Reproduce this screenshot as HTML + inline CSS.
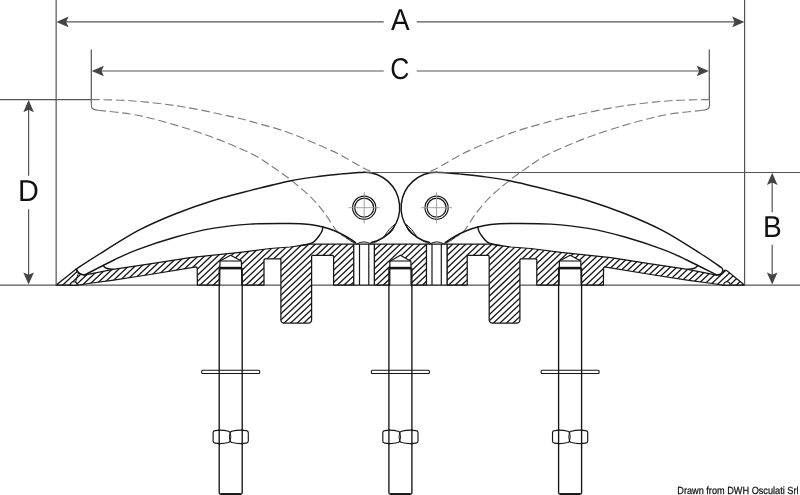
<!DOCTYPE html>
<html><head><meta charset="utf-8"><title>Cleat drawing</title>
<style>
html,body{margin:0;padding:0;background:#fff;}
body{width:800px;height:495px;overflow:hidden;font-family:"Liberation Sans",sans-serif;}
svg{display:block;will-change:transform;}
</style></head>
<body>
<svg width="800" height="495" viewBox="0 0 800 495">
<rect width="800" height="495" fill="#fff"/>
<path d="M0,285.2 H280.6 M311.6,285.2 H489.20 M520.20,285.2 H800" stroke="#555" stroke-width="1.2" fill="none"/>
<clipPath id="baseclip"><path d="M56.20,285.00 L76.30,269.00 L77.60,271.60 L80.20,273.90 L84.00,275.00 L88.00,274.30 L113.00,269.40 L150.00,263.80 L190.00,257.60 L240.00,252.30 L270.00,248.50 L290.00,247.00 L300.00,245.60 L305.00,244.80 L311.00,244.10 L353.80,244.10 L353.80,285.00 L333.60,285.00 L333.60,256.30 L332.60,255.30 L312.60,255.30 L311.60,256.30 L311.60,320.00 L311.20,321.60 L310.20,322.70 L308.60,323.10 L283.90,323.10 L282.30,322.70 L281.30,321.60 L280.90,320.00 L280.90,259.80 L279.90,258.80 L265.00,258.80 L264.00,259.80 L264.00,285.00 L241.80,285.00 L241.40,261.00 L230.60,255.20 L220.00,261.00 L219.60,285.00 L197.40,285.00 L197.20,268.00 L196.20,266.90 L150.00,274.50 L112.00,280.30 L88.40,283.50 L79.00,285.00Z"/><path d="M744.40,285.00 L727.00,270.80 L725.60,270.20 L724.20,270.50 L723.40,271.80 L721.60,273.80 L718.60,275.00 L716.40,275.10 L712.80,274.30 L687.80,269.40 L650.80,263.80 L610.80,257.60 L560.80,252.30 L530.80,248.50 L510.80,247.00 L500.80,245.60 L495.80,244.80 L489.80,244.10 L447.00,244.10 L447.00,285.00 L467.20,285.00 L467.20,256.30 L468.20,255.30 L488.20,255.30 L489.20,256.30 L489.20,320.00 L489.60,321.60 L490.60,322.70 L492.20,323.10 L516.90,323.10 L518.50,322.70 L519.50,321.60 L519.90,320.00 L519.90,259.80 L520.90,258.80 L535.80,258.80 L536.80,259.80 L536.80,285.00 L559.00,285.00 L559.40,261.00 L570.20,255.20 L580.80,261.00 L581.20,285.00 L603.40,285.00 L603.60,268.00 L604.60,266.90 L650.80,274.50 L688.80,280.30 L712.40,283.50 L721.80,285.00Z"/><path d="M374.30,244.10 L426.50,244.10 L426.50,285.00 L411.10,285.00 L410.90,261.20 L400.40,255.20 L389.90,261.20 L389.70,285.00 L374.30,285.00Z"/></clipPath>
<g clip-path="url(#baseclip)"><path d="M-383.70,330 L-288.47,240 M-377.16,330 L-281.93,240 M-370.62,330 L-275.39,240 M-364.08,330 L-268.85,240 M-357.54,330 L-262.31,240 M-351.01,330 L-255.77,240 M-344.47,330 L-249.23,240 M-337.93,330 L-242.69,240 M-331.39,330 L-236.15,240 M-324.85,330 L-229.61,240 M-318.31,330 L-223.07,240 M-311.77,330 L-216.53,240 M-305.23,330 L-209.99,240 M-298.69,330 L-203.45,240 M-292.15,330 L-196.91,240 M-285.61,330 L-190.37,240 M-279.07,330 L-183.83,240 M-272.53,330 L-177.29,240 M-265.99,330 L-170.75,240 M-259.45,330 L-164.21,240 M-252.91,330 L-157.67,240 M-246.37,330 L-151.13,240 M-239.83,330 L-144.59,240 M-233.29,330 L-138.05,240 M-226.75,330 L-131.51,240 M-220.21,330 L-124.97,240 M-213.67,330 L-118.43,240 M-207.13,330 L-111.89,240 M-200.59,330 L-105.35,240 M-194.05,330 L-98.81,240 M-187.51,330 L-92.28,240 M-180.97,330 L-85.74,240 M-174.43,330 L-79.20,240 M-167.89,330 L-72.66,240 M-161.35,330 L-66.12,240 M-154.81,330 L-59.58,240 M-148.28,330 L-53.04,240 M-141.74,330 L-46.50,240 M-135.20,330 L-39.96,240 M-128.66,330 L-33.42,240 M-122.12,330 L-26.88,240 M-115.58,330 L-20.34,240 M-109.04,330 L-13.80,240 M-102.50,330 L-7.26,240 M-95.96,330 L-0.72,240 M-89.42,330 L5.82,240 M-82.88,330 L12.36,240 M-76.34,330 L18.90,240 M-69.80,330 L25.44,240 M-63.26,330 L31.98,240 M-56.72,330 L38.52,240 M-50.18,330 L45.06,240 M-43.64,330 L51.60,240 M-37.10,330 L58.14,240 M-30.56,330 L64.68,240 M-24.02,330 L71.22,240 M-17.48,330 L77.76,240 M-10.94,330 L84.30,240 M-4.40,330 L90.84,240 M2.14,330 L97.38,240 M8.68,330 L103.92,240 M15.22,330 L110.46,240 M21.76,330 L116.99,240 M28.30,330 L123.53,240 M34.84,330 L130.07,240 M41.38,330 L136.61,240 M47.92,330 L143.15,240 M54.46,330 L149.69,240 M60.99,330 L156.23,240 M67.53,330 L162.77,240 M74.07,330 L169.31,240 M80.61,330 L175.85,240 M87.15,330 L182.39,240 M93.69,330 L188.93,240 M100.23,330 L195.47,240 M106.77,330 L202.01,240 M113.31,330 L208.55,240 M119.85,330 L215.09,240 M126.39,330 L221.63,240 M132.93,330 L228.17,240 M139.47,330 L234.71,240 M146.01,330 L241.25,240 M152.55,330 L247.79,240 M159.09,330 L254.33,240 M165.63,330 L260.87,240 M172.17,330 L267.41,240 M178.71,330 L273.95,240 M185.25,330 L280.49,240 M191.79,330 L287.03,240 M198.33,330 L293.57,240 M204.87,330 L300.11,240 M211.41,330 L306.65,240 M217.95,330 L313.19,240 M224.49,330 L319.72,240 M231.03,330 L326.26,240 M237.57,330 L332.80,240 M244.11,330 L339.34,240 M250.65,330 L345.88,240 M257.19,330 L352.42,240 M263.72,330 L358.96,240 M270.26,330 L365.50,240 M276.80,330 L372.04,240 M283.34,330 L378.58,240 M289.88,330 L385.12,240 M296.42,330 L391.66,240 M302.96,330 L398.20,240 M309.50,330 L404.74,240 M316.04,330 L411.28,240 M322.58,330 L417.82,240 M329.12,330 L424.36,240 M335.66,330 L430.90,240 M342.20,330 L437.44,240 M348.74,330 L443.98,240 M355.28,330 L450.52,240 M361.82,330 L457.06,240 M368.36,330 L463.60,240 M374.90,330 L470.14,240 M381.44,330 L476.68,240 M387.98,330 L483.22,240 M394.52,330 L489.76,240 M401.06,330 L496.30,240 M407.60,330 L502.84,240 M414.14,330 L509.38,240 M420.68,330 L515.92,240 M427.22,330 L522.46,240 M433.76,330 L528.99,240 M440.30,330 L535.53,240 M446.84,330 L542.07,240 M453.38,330 L548.61,240 M459.92,330 L555.15,240 M466.46,330 L561.69,240 M472.99,330 L568.23,240 M479.53,330 L574.77,240 M486.07,330 L581.31,240 M492.61,330 L587.85,240 M499.15,330 L594.39,240 M505.69,330 L600.93,240 M512.23,330 L607.47,240 M518.77,330 L614.01,240 M525.31,330 L620.55,240 M531.85,330 L627.09,240 M538.39,330 L633.63,240 M544.93,330 L640.17,240 M551.47,330 L646.71,240 M558.01,330 L653.25,240 M564.55,330 L659.79,240 M571.09,330 L666.33,240 M577.63,330 L672.87,240 M584.17,330 L679.41,240 M590.71,330 L685.95,240 M597.25,330 L692.49,240 M603.79,330 L699.03,240 M610.33,330 L705.57,240 M616.87,330 L712.11,240 M623.41,330 L718.65,240 M629.95,330 L725.19,240 M636.49,330 L731.72,240 M643.03,330 L738.26,240 M649.57,330 L744.80,240 M656.11,330 L751.34,240 M662.65,330 L757.88,240 M669.19,330 L764.42,240 M675.72,330 L770.96,240 M682.26,330 L777.50,240 M688.80,330 L784.04,240 M695.34,330 L790.58,240 M701.88,330 L797.12,240 M708.42,330 L803.66,240 M714.96,330 L810.20,240 M721.50,330 L816.74,240 M728.04,330 L823.28,240 M734.58,330 L829.82,240 M741.12,330 L836.36,240 M747.66,330 L842.90,240 M754.20,330 L849.44,240 M760.74,330 L855.98,240 M767.28,330 L862.52,240 M773.82,330 L869.06,240 M780.36,330 L875.60,240 M786.90,330 L882.14,240 M793.44,330 L888.68,240 M799.98,330 L895.22,240 M806.52,330 L901.76,240 M813.06,330 L908.30,240 M819.60,330 L914.84,240 M826.14,330 L921.38,240 M832.68,330 L927.92,240 M839.22,330 L934.46,240 M845.76,330 L940.99,240 M852.30,330 L947.53,240 M858.84,330 L954.07,240 M865.38,330 L960.61,240 M871.92,330 L967.15,240 M878.46,330 L973.69,240 M884.99,330 L980.23,240 M891.53,330 L986.77,240 M898.07,330 L993.31,240 M904.61,330 L999.85,240 M911.15,330 L1006.39,240 M917.69,330 L1012.93,240" stroke="#161616" stroke-width="1.30" fill="none"/></g>
<g fill="none" stroke="#161616" stroke-width="1.25" stroke-linejoin="round">
<path d="M56.20,285.00 L76.30,269.00 L77.60,271.60 L80.20,273.90 L84.00,275.00 L88.00,274.30 L113.00,269.40 L150.00,263.80 L190.00,257.60 L240.00,252.30 L270.00,248.50 L290.00,247.00 L300.00,245.60 L305.00,244.80 L311.00,244.10 L353.80,244.10 L353.80,285.00 L333.60,285.00 L333.60,256.30 L332.60,255.30 L312.60,255.30 L311.60,256.30 L311.60,320.00 L311.20,321.60 L310.20,322.70 L308.60,323.10 L283.90,323.10 L282.30,322.70 L281.30,321.60 L280.90,320.00 L280.90,259.80 L279.90,258.80 L265.00,258.80 L264.00,259.80 L264.00,285.00 L241.80,285.00 L241.40,261.00 L230.60,255.20 L220.00,261.00 L219.60,285.00 L197.40,285.00 L197.20,268.00 L196.20,266.90 L150.00,274.50 L112.00,280.30 L88.40,283.50 L79.00,285.00Z"/>
<path d="M744.40,285.00 L727.00,270.80 L725.60,270.20 L724.20,270.50 L723.40,271.80 L721.60,273.80 L718.60,275.00 L716.40,275.10 L712.80,274.30 L687.80,269.40 L650.80,263.80 L610.80,257.60 L560.80,252.30 L530.80,248.50 L510.80,247.00 L500.80,245.60 L495.80,244.80 L489.80,244.10 L447.00,244.10 L447.00,285.00 L467.20,285.00 L467.20,256.30 L468.20,255.30 L488.20,255.30 L489.20,256.30 L489.20,320.00 L489.60,321.60 L490.60,322.70 L492.20,323.10 L516.90,323.10 L518.50,322.70 L519.50,321.60 L519.90,320.00 L519.90,259.80 L520.90,258.80 L535.80,258.80 L536.80,259.80 L536.80,285.00 L559.00,285.00 L559.40,261.00 L570.20,255.20 L580.80,261.00 L581.20,285.00 L603.40,285.00 L603.60,268.00 L604.60,266.90 L650.80,274.50 L688.80,280.30 L712.40,283.50 L721.80,285.00Z"/>
<path d="M374.30,244.10 L426.50,244.10 L426.50,285.00 L411.10,285.00 L410.90,261.20 L400.40,255.20 L389.90,261.20 L389.70,285.00 L374.30,285.00Z"/>
</g>
<path d="M70.60,285.00 A3.2,3.2 0 0 1 77.00,285.00 Z" fill="#fff" stroke="#161616" stroke-width="1.1"/>
<path d="M78.60,272.6 Q77.00,277 75.60,282.2" fill="none" stroke="#161616" stroke-width="1"/>
<path d="M730.20,285.00 A3.2,3.2 0 0 0 723.80,285.00 Z" fill="#fff" stroke="#161616" stroke-width="1.1"/>
<rect x="353.80" y="244.1" width="20.50" height="40.90" fill="#fff"/>
<line x1="353.80" y1="244.1" x2="353.80" y2="285.00" stroke="#161616" stroke-width="1.2"/>
<line x1="359.50" y1="244.1" x2="359.50" y2="285.00" stroke="#161616" stroke-width="1.2"/>
<line x1="368.80" y1="244.1" x2="368.80" y2="285.00" stroke="#161616" stroke-width="1.2"/>
<line x1="374.30" y1="244.1" x2="374.30" y2="285.00" stroke="#161616" stroke-width="1.2"/>
<path d="M353.80,244.1 H374.30 M353.80,285.00 H374.30" stroke="#161616" stroke-width="1.2" fill="none"/>
<rect x="426.50" y="244.1" width="20.50" height="40.90" fill="#fff"/>
<line x1="447.00" y1="244.1" x2="447.00" y2="285.00" stroke="#161616" stroke-width="1.2"/>
<line x1="441.30" y1="244.1" x2="441.30" y2="285.00" stroke="#161616" stroke-width="1.2"/>
<line x1="432.00" y1="244.1" x2="432.00" y2="285.00" stroke="#161616" stroke-width="1.2"/>
<line x1="426.50" y1="244.1" x2="426.50" y2="285.00" stroke="#161616" stroke-width="1.2"/>
<path d="M447.00,244.1 H426.50 M447.00,285.00 H426.50" stroke="#161616" stroke-width="1.2" fill="none"/>
<path d="M220.10,261 L241.30,261" stroke="#161616" stroke-width="1.1"/>
<path d="M219.50,268.1 L241.90,268.1" stroke="#161616" stroke-width="2.6"/>
<path d="M219.20,268 L219.20,492.6 Q219.20,494.2 220.80,494.2 L240.60,494.2 Q242.20,494.2 242.20,492.6 L242.20,268" fill="none" stroke="#161616" stroke-width="1.35"/>
<path d="M220.70,494 L240.70,494" stroke="#161616" stroke-width="1.8"/>
<rect x="201.70" y="370.3" width="58" height="3.2" rx="1" fill="#fff" stroke="#161616" stroke-width="1.1"/>
<path d="M219.20,370.3 V373.5 M242.20,370.3 V373.5" stroke="#161616" stroke-width="1.35"/>
<path d="M213.10,432.70 Q213.10,430.80 215.00,430.60 Q221.60,429.40 228.40,431.20 L230.10,432.30 L231.80,431.20 Q239.20,429.40 246.40,430.60 Q248.30,430.80 248.30,432.70 L248.30,441.00 Q248.30,442.90 246.40,443.10 Q239.20,444.30 231.80,442.50 L230.10,441.40 L228.40,442.50 Q221.60,444.30 215.00,443.10 Q213.10,442.90 213.10,441.00 Z" fill="#fff" stroke="#161616" stroke-width="1.15" stroke-linejoin="round"/>
<path d="M230.10,432.30 Q228.60,436.85 230.10,441.40" fill="none" stroke="#161616" stroke-width="1.0"/>
<path d="M230.10,432.30 Q231.60,436.85 230.10,441.40" fill="none" stroke="#161616" stroke-width="1.0"/>
<path d="M219.20,429.30 V444.40 M242.20,429.30 V444.40" stroke="#161616" stroke-width="1.35"/>
<path d="M389.80,261 L411.00,261" stroke="#161616" stroke-width="1.1"/>
<path d="M389.20,268.1 L411.60,268.1" stroke="#161616" stroke-width="2.6"/>
<path d="M388.90,268 L388.90,492.6 Q388.90,494.2 390.50,494.2 L410.30,494.2 Q411.90,494.2 411.90,492.6 L411.90,268" fill="none" stroke="#161616" stroke-width="1.35"/>
<path d="M390.40,494 L410.40,494" stroke="#161616" stroke-width="1.8"/>
<rect x="371.40" y="370.3" width="58" height="3.2" rx="1" fill="#fff" stroke="#161616" stroke-width="1.1"/>
<path d="M388.90,370.3 V373.5 M411.90,370.3 V373.5" stroke="#161616" stroke-width="1.35"/>
<path d="M382.80,432.70 Q382.80,430.80 384.70,430.60 Q391.30,429.40 398.10,431.20 L399.80,432.30 L401.50,431.20 Q408.90,429.40 416.10,430.60 Q418.00,430.80 418.00,432.70 L418.00,441.00 Q418.00,442.90 416.10,443.10 Q408.90,444.30 401.50,442.50 L399.80,441.40 L398.10,442.50 Q391.30,444.30 384.70,443.10 Q382.80,442.90 382.80,441.00 Z" fill="#fff" stroke="#161616" stroke-width="1.15" stroke-linejoin="round"/>
<path d="M399.80,432.30 Q398.30,436.85 399.80,441.40" fill="none" stroke="#161616" stroke-width="1.0"/>
<path d="M399.80,432.30 Q401.30,436.85 399.80,441.40" fill="none" stroke="#161616" stroke-width="1.0"/>
<path d="M388.90,429.30 V444.40 M411.90,429.30 V444.40" stroke="#161616" stroke-width="1.35"/>
<path d="M559.50,261 L580.70,261" stroke="#161616" stroke-width="1.1"/>
<path d="M558.90,268.1 L581.30,268.1" stroke="#161616" stroke-width="2.6"/>
<path d="M558.60,268 L558.60,492.6 Q558.60,494.2 560.20,494.2 L580.00,494.2 Q581.60,494.2 581.60,492.6 L581.60,268" fill="none" stroke="#161616" stroke-width="1.35"/>
<path d="M560.10,494 L580.10,494" stroke="#161616" stroke-width="1.8"/>
<rect x="541.10" y="370.3" width="58" height="3.2" rx="1" fill="#fff" stroke="#161616" stroke-width="1.1"/>
<path d="M558.60,370.3 V373.5 M581.60,370.3 V373.5" stroke="#161616" stroke-width="1.35"/>
<path d="M552.50,432.70 Q552.50,430.80 554.40,430.60 Q561.00,429.40 567.80,431.20 L569.50,432.30 L571.20,431.20 Q578.60,429.40 585.80,430.60 Q587.70,430.80 587.70,432.70 L587.70,441.00 Q587.70,442.90 585.80,443.10 Q578.60,444.30 571.20,442.50 L569.50,441.40 L567.80,442.50 Q561.00,444.30 554.40,443.10 Q552.50,442.90 552.50,441.00 Z" fill="#fff" stroke="#161616" stroke-width="1.15" stroke-linejoin="round"/>
<path d="M569.50,432.30 Q568.00,436.85 569.50,441.40" fill="none" stroke="#161616" stroke-width="1.0"/>
<path d="M569.50,432.30 Q571.00,436.85 569.50,441.40" fill="none" stroke="#161616" stroke-width="1.0"/>
<path d="M558.60,429.30 V444.40 M581.60,429.30 V444.40" stroke="#161616" stroke-width="1.35"/>
<path d="M91.40,99.60 C97.92,99.78 115.57,99.55 130.50,100.70 C145.43,101.85 164.17,103.85 181.00,106.50 C197.83,109.15 218.33,113.68 231.50,116.60 C244.67,119.52 250.87,121.47 260.00,124.00 C269.13,126.53 277.55,128.75 286.30,131.80 C295.05,134.85 303.75,138.58 312.50,142.30 C321.25,146.02 330.92,150.15 338.80,154.10 C346.68,158.05 354.10,162.92 359.80,166.00 C365.50,169.08 370.80,171.50 373.00,172.60" fill="none" stroke="#7d7d7d" stroke-width="1.15" stroke-dasharray="8.5 3.8"/>
<path d="M97.70,110.30 C103.17,110.92 120.82,112.45 130.50,114.00 C140.18,115.55 147.38,117.48 155.80,119.60 C164.22,121.72 172.58,124.13 181.00,126.70 C189.42,129.27 197.88,131.98 206.30,135.00 C214.72,138.02 223.08,141.22 231.50,144.80 C239.92,148.38 249.87,152.75 256.80,156.50 C263.73,160.25 268.18,163.97 273.10,167.30 C278.02,170.63 281.92,173.22 286.30,176.50 C290.68,179.78 295.03,183.28 299.40,187.00 C303.77,190.72 308.12,194.20 312.50,198.80 C316.88,203.40 321.75,209.35 325.70,214.60 C329.65,219.85 332.82,226.47 336.20,230.30 C339.58,234.13 342.93,235.60 346.00,237.60 C349.07,239.60 353.17,241.52 354.60,242.30" fill="none" stroke="#7d7d7d" stroke-width="1.15" stroke-dasharray="8.5 3.8"/>
<path d="M91.30,99.6 V105.6 Q91.30,110 97.70,110.3" fill="none" stroke="#666" stroke-width="1.1"/>
<path d="M709.40,99.60 C702.88,99.78 685.23,99.55 670.30,100.70 C655.37,101.85 636.63,103.85 619.80,106.50 C602.97,109.15 582.47,113.68 569.30,116.60 C556.13,119.52 549.93,121.47 540.80,124.00 C531.67,126.53 523.25,128.75 514.50,131.80 C505.75,134.85 497.05,138.58 488.30,142.30 C479.55,146.02 469.88,150.15 462.00,154.10 C454.12,158.05 446.70,162.92 441.00,166.00 C435.30,169.08 430.00,171.50 427.80,172.60" fill="none" stroke="#7d7d7d" stroke-width="1.15" stroke-dasharray="8.5 3.8"/>
<path d="M703.10,110.30 C697.63,110.92 679.98,112.45 670.30,114.00 C660.62,115.55 653.42,117.48 645.00,119.60 C636.58,121.72 628.22,124.13 619.80,126.70 C611.38,129.27 602.92,131.98 594.50,135.00 C586.08,138.02 577.72,141.22 569.30,144.80 C560.88,148.38 550.93,152.75 544.00,156.50 C537.07,160.25 532.62,163.97 527.70,167.30 C522.78,170.63 518.88,173.22 514.50,176.50 C510.12,179.78 505.77,183.28 501.40,187.00 C497.03,190.72 492.68,194.20 488.30,198.80 C483.92,203.40 479.05,209.35 475.10,214.60 C471.15,219.85 467.98,226.47 464.60,230.30 C461.22,234.13 457.87,235.60 454.80,237.60 C451.73,239.60 447.63,241.52 446.20,242.30" fill="none" stroke="#7d7d7d" stroke-width="1.15" stroke-dasharray="8.5 3.8"/>
<path d="M709.50,99.6 V105.6 Q709.50,110 703.10,110.3" fill="none" stroke="#666" stroke-width="1.1"/>
<path d="M76.30,269.00 C80.25,266.46 89.80,260.10 100.00,253.75 C110.20,247.40 125.00,237.53 137.50,230.90 C150.00,224.28 162.50,219.03 175.00,214.00 C187.50,208.97 200.00,204.60 212.50,200.70 C225.00,196.80 237.08,193.88 250.00,190.60 C262.92,187.32 278.33,183.38 290.00,181.00 C301.67,178.62 311.67,177.45 320.00,176.30 C328.33,175.15 332.63,174.78 340.00,174.10 C347.37,173.42 360.17,172.52 364.20,172.20" fill="none" stroke="#161616" stroke-width="1.45" stroke-linecap="round"/>
<path d="M84.60,275.00 C89.50,272.50 105.18,264.23 114.00,260.00 C122.82,255.77 127.33,253.39 137.50,249.60 C147.67,245.81 162.50,240.78 175.00,237.25 C187.50,233.72 200.00,230.59 212.50,228.40 C225.00,226.21 237.08,224.92 250.00,224.10 C262.92,223.28 280.00,223.43 290.00,223.50 C300.00,223.57 304.50,223.92 310.00,224.50 C315.50,225.08 318.83,225.92 323.00,227.00 C327.17,228.08 331.17,229.42 335.00,231.00 C338.83,232.58 342.58,234.57 346.00,236.50 C349.42,238.43 353.92,241.58 355.50,242.60" fill="none" stroke="#161616" stroke-width="1.45" stroke-linecap="round"/>
<path d="M76.30,269.00 C76.52,269.47 76.92,270.93 77.60,271.80 C78.28,272.67 79.23,273.67 80.40,274.20 C81.57,274.73 83.90,274.87 84.60,275.00" fill="none" stroke="#161616" stroke-width="1.45" stroke-linecap="round"/>
<path d="M323.00,227.00 C322.80,227.75 322.38,230.13 321.80,231.50 C321.22,232.87 320.55,233.75 319.50,235.20 C318.45,236.65 316.83,238.87 315.50,240.20 C314.17,241.53 313.08,242.48 311.50,243.20 C309.92,243.92 307.92,244.10 306.00,244.50 C304.08,244.90 301.00,245.42 300.00,245.60" fill="none" stroke="#161616" stroke-width="1.45" stroke-linecap="round"/>
<path d="M103.20,265.60 C103.75,266.03 104.87,267.58 106.50,268.20 C108.13,268.82 111.92,269.12 113.00,269.30" fill="none" stroke="#161616" stroke-width="1.45" stroke-linecap="round"/>
<path d="M364.20,172.20 A35.50,35.50 0 0 1 371.20,242.50" fill="none" stroke="#161616" stroke-width="1.45" stroke-linecap="round"/>
<circle cx="364.20" cy="207.70" r="11.6" fill="none" stroke="#161616" stroke-width="1.2"/>
<circle cx="364.20" cy="207.70" r="9.5" fill="none" stroke="#161616" stroke-width="1.2"/>
<path d="M348.70,207.70 H379.70 M364.20,192.10 V223.50" stroke="#999" stroke-width="0.9"/>
<path d="M384.30,236.40 C385.12,235.25 387.38,231.57 389.20,229.50 C391.02,227.43 394.20,224.92 395.20,224.00" fill="none" stroke="#161616" stroke-width="1"/>
<path d="M384.30,236.40 C385.50,235.60 389.68,233.67 391.50,231.60 C393.32,229.53 394.58,225.27 395.20,224.00" fill="none" stroke="#161616" stroke-width="1"/>
<path d="M356.50,244.2 Q363.80,239.6 371.50,244.2" fill="none" stroke="#161616" stroke-width="1"/>
<path d="M346.00,237.60 C346.83,238.20 349.25,240.17 351.00,241.20 C352.75,242.23 355.58,243.37 356.50,243.80" fill="none" stroke="#161616" stroke-width="0.9"/>
<path d="M371.50,243.60 C372.50,243.20 375.37,242.40 377.50,241.20 C379.63,240.00 383.17,237.20 384.30,236.40" fill="none" stroke="#161616" stroke-width="0.9"/>
<path d="M719.90,266.60 C716.72,264.46 710.23,259.70 700.80,253.75 C691.37,247.80 675.80,237.53 663.30,230.90 C650.80,224.28 638.30,219.03 625.80,214.00 C613.30,208.97 600.80,204.60 588.30,200.70 C575.80,196.80 563.72,193.88 550.80,190.60 C537.88,187.32 522.47,183.38 510.80,181.00 C499.13,178.62 489.13,177.45 480.80,176.30 C472.47,175.15 468.17,174.78 460.80,174.10 C453.43,173.42 440.63,172.52 436.60,172.20" fill="none" stroke="#161616" stroke-width="1.45" stroke-linecap="round"/>
<path d="M716.60,275.00 C711.63,272.50 695.68,264.23 686.80,260.00 C677.92,255.77 673.47,253.39 663.30,249.60 C653.13,245.81 638.30,240.78 625.80,237.25 C613.30,233.72 600.80,230.59 588.30,228.40 C575.80,226.21 563.72,224.92 550.80,224.10 C537.88,223.28 520.80,223.43 510.80,223.50 C500.80,223.57 496.30,223.92 490.80,224.50 C485.30,225.08 481.97,225.92 477.80,227.00 C473.63,228.08 469.63,229.42 465.80,231.00 C461.97,232.58 458.22,234.57 454.80,236.50 C451.38,238.43 446.88,241.58 445.30,242.60" fill="none" stroke="#161616" stroke-width="1.45" stroke-linecap="round"/>
<path d="M719.90,266.60 C720.28,266.90 721.72,267.77 722.20,268.40 C722.68,269.03 722.92,269.60 722.80,270.40 C722.68,271.20 722.17,272.47 721.50,273.20 C720.83,273.93 719.62,274.50 718.80,274.80 C717.98,275.10 716.97,274.97 716.60,275.00" fill="none" stroke="#161616" stroke-width="1.45" stroke-linecap="round"/>
<path d="M477.80,227.00 C478.00,227.75 478.42,230.13 479.00,231.50 C479.58,232.87 480.25,233.75 481.30,235.20 C482.35,236.65 483.97,238.87 485.30,240.20 C486.63,241.53 487.72,242.48 489.30,243.20 C490.88,243.92 492.88,244.10 494.80,244.50 C496.72,244.90 499.80,245.42 500.80,245.60" fill="none" stroke="#161616" stroke-width="1.45" stroke-linecap="round"/>
<path d="M697.60,265.60 C697.05,266.03 695.93,267.58 694.30,268.20 C692.67,268.82 688.88,269.12 687.80,269.30" fill="none" stroke="#161616" stroke-width="1.45" stroke-linecap="round"/>
<path d="M436.60,172.20 A35.50,35.50 0 0 0 429.60,242.50" fill="none" stroke="#161616" stroke-width="1.45" stroke-linecap="round"/>
<circle cx="436.60" cy="207.70" r="11.6" fill="none" stroke="#161616" stroke-width="1.2"/>
<circle cx="436.60" cy="207.70" r="9.5" fill="none" stroke="#161616" stroke-width="1.2"/>
<path d="M452.10,207.70 H421.10 M436.60,192.10 V223.50" stroke="#999" stroke-width="0.9"/>
<path d="M416.50,236.40 C415.68,235.25 413.42,231.57 411.60,229.50 C409.78,227.43 406.60,224.92 405.60,224.00" fill="none" stroke="#161616" stroke-width="1"/>
<path d="M416.50,236.40 C415.30,235.60 411.12,233.67 409.30,231.60 C407.48,229.53 406.22,225.27 405.60,224.00" fill="none" stroke="#161616" stroke-width="1"/>
<path d="M444.30,244.2 Q437.00,239.6 429.30,244.2" fill="none" stroke="#161616" stroke-width="1"/>
<path d="M454.80,237.60 C453.97,238.20 451.55,240.17 449.80,241.20 C448.05,242.23 445.22,243.37 444.30,243.80" fill="none" stroke="#161616" stroke-width="0.9"/>
<path d="M429.30,243.60 C428.30,243.20 425.43,242.40 423.30,241.20 C421.17,240.00 417.63,237.20 416.50,236.40" fill="none" stroke="#161616" stroke-width="0.9"/>
<path d="M56.15,0 V285.00 M744.60,0 V285.00" stroke="#555" stroke-width="1.2" fill="none"/>
<path d="M62.15,21.9 H383.7 M416.7,21.9 H738.60" stroke="#555" stroke-width="1.2" fill="none"/>
<polygon points="56.35,21.90 68.55,16.60 66.15,21.90 68.55,27.20" fill="#444"/>
<polygon points="744.40,21.90 732.20,16.60 734.60,21.90 732.20,27.20" fill="#444"/>
<path d="M91.3,49.6 V99.6 M709.3,49.6 V99.6" stroke="#555" stroke-width="1.2" fill="none"/>
<path d="M97,71 H383.7 M416.7,71 H703.6" stroke="#555" stroke-width="1.2" fill="none"/>
<polygon points="91.70,71.00 103.90,65.70 101.50,71.00 103.90,76.30" fill="#444"/>
<polygon points="708.90,71.00 696.70,65.70 699.10,71.00 696.70,76.30" fill="#444"/>
<path d="M0,99.6 H91.3" stroke="#555" stroke-width="1.2" fill="none"/>
<path d="M28.6,105 V175.7 M28.6,209.3 V279" stroke="#555" stroke-width="1.2" fill="none"/>
<polygon points="28.60,100.00 23.30,112.20 28.60,109.80 33.90,112.20" fill="#444"/>
<polygon points="28.60,284.60 23.30,272.40 28.60,274.80 33.90,272.40" fill="#444"/>
<path d="M366,172.5 H800" stroke="#555" stroke-width="1.2" fill="none"/>
<path d="M772.2,178 V212.3 M772.2,244.7 V279" stroke="#555" stroke-width="1.2" fill="none"/>
<polygon points="772.20,172.80 766.90,185.00 772.20,182.60 777.50,185.00" fill="#444"/>
<polygon points="772.20,284.60 766.90,272.40 772.20,274.80 777.50,272.40" fill="#444"/>
<text x="0" y="0" transform="translate(400.30,30.20) scale(0.925,1)" text-anchor="middle" text-rendering="geometricPrecision" opacity="0.999" font-family="Liberation Sans, sans-serif" font-size="30.20" fill="#111">A</text>
<text x="0" y="0" transform="translate(399.90,79.20) scale(0.875,1)" text-anchor="middle" text-rendering="geometricPrecision" opacity="0.999" font-family="Liberation Sans, sans-serif" font-size="30.20" fill="#111">C</text>
<text x="0" y="0" transform="translate(28.40,200.50) scale(0.955,1)" text-anchor="middle" text-rendering="geometricPrecision" opacity="0.999" font-family="Liberation Sans, sans-serif" font-size="30.20" fill="#111">D</text>
<text x="0" y="0" transform="translate(772.40,236.60) scale(0.930,1)" text-anchor="middle" text-rendering="geometricPrecision" opacity="0.999" font-family="Liberation Sans, sans-serif" font-size="30.20" fill="#111">B</text>
<text x="798.5" y="493.6" text-anchor="end" text-rendering="geometricPrecision" font-family="Liberation Sans, sans-serif" font-size="10.4" fill="#111" stroke="#111" stroke-width="0.25" textLength="121.2" lengthAdjust="spacingAndGlyphs">Drawn from DWH Osculati Srl</text>
</svg>
</body></html>
